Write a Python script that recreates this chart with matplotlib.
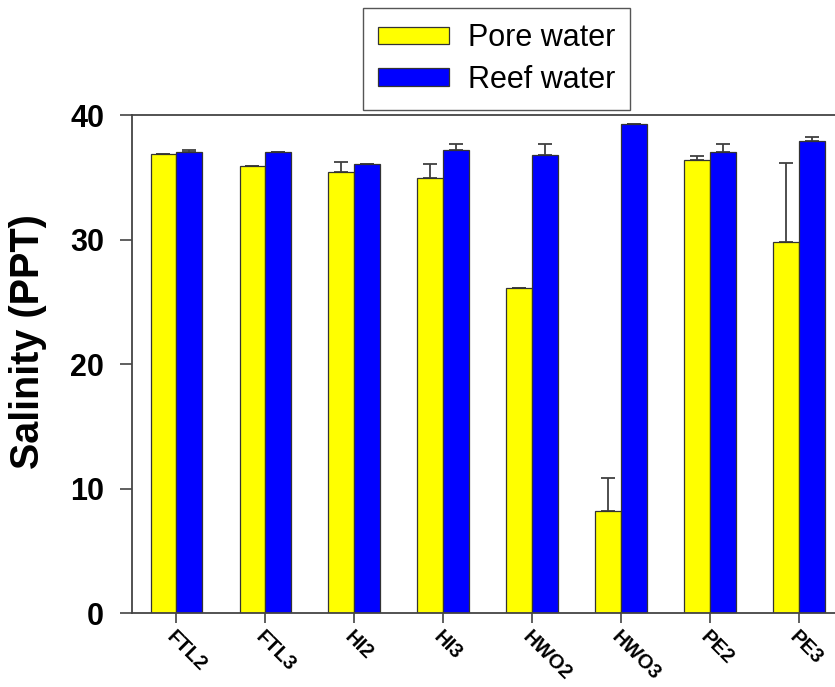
import matplotlib
matplotlib.use('Agg')
import matplotlib.pyplot as plt
import numpy as np

# salinity per site, pore water vs reef water (PPT), with upper std error
sites = ['FTL2', 'FTL3', 'HI2', 'HI3', 'HWO2', 'HWO3', 'PE2', 'PE3']
pore = [36.85, 35.9, 35.45, 34.9, 26.1, 8.2, 36.4, 29.8]
pore_err = [0.0, 0.0, 0.75, 1.2, 0.0, 2.65, 0.27, 6.35]
reef = [37.0, 37.0, 36.1, 37.2, 36.8, 39.3, 37.0, 37.9]
reef_err = [0.2, 0.0, 0.0, 0.45, 0.9, 0.0, 0.65, 0.3]

plt.rcParams['font.family'] = ['Liberation Sans', 'DejaVu Sans']

fig = plt.figure(figsize=(8.35, 6.87), dpi=100)
ax = fig.add_axes([0.158, 0.1077, 0.852, 0.7249])

x = np.arange(len(sites))
w = 0.29
edge = '#333333'

ax.bar(x - w/2, pore, w, color='#FFFF00', edgecolor=edge, linewidth=0.9,
       label='Pore water', zorder=2)
ax.bar(x + w/2, reef, w, color='#0000FF', edgecolor=edge, linewidth=0.9,
       label='Reef water', zorder=2)

# only the upper half of the error bars is drawn
ax.errorbar(x - w/2, pore, yerr=[np.zeros(len(pore)), pore_err], fmt='none',
            ecolor='#404040', elinewidth=1.3, capsize=5, capthick=1.3, zorder=1)
ax.errorbar(x + w/2, reef, yerr=[np.zeros(len(reef)), reef_err], fmt='none',
            ecolor='#404040', elinewidth=1.3, capsize=5, capthick=1.3, zorder=1)

ax.set_xlim(-0.5, 7.5)
ax.set_ylim(0, 40)
ax.set_yticks([0, 10, 20, 30, 40])
ax.set_xticks(x)
ax.set_xticklabels(sites, rotation=-45, ha='left', va='top',
                   rotation_mode='anchor', fontsize=14.5, fontweight='bold')
for lab in ax.get_yticklabels():
    lab.set_fontsize(22)
    lab.set_fontweight('bold')

ax.tick_params(axis='y', direction='out', length=9, width=1.2, color='#444444', pad=11)
ax.tick_params(axis='x', direction='out', length=7, width=1.2, color='#444444', pad=3)
for s in ax.spines.values():
    s.set_color('#444444')
    s.set_linewidth(1.3)

ax.set_ylabel('Salinity (PPT)', fontsize=28.5, fontweight='bold')
ax.yaxis.set_label_coords(-0.120, 0.546)

leg = fig.legend(loc='upper left', bbox_to_anchor=(363/835, 1 - 8/687),
                 fontsize=22, handlelength=2.3, handleheight=0.5,
                 handletextpad=0.62, labelspacing=0.38, borderpad=0.5,
                 borderaxespad=0, fancybox=False, framealpha=1,
                 edgecolor='#555555')
leg.get_frame().set_linewidth(1.0)

fig.savefig('out.png', dpi=100)
